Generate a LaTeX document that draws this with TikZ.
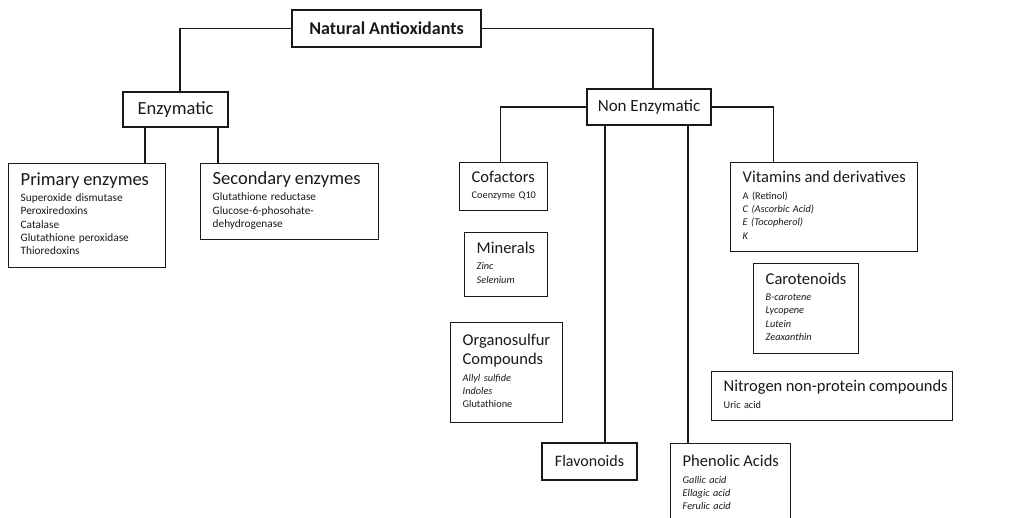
\documentclass[tikz,border=0pt]{standalone}
\usepackage{fontspec}
\setmainfont{Carlito}
\tikzset{
  box/.style={draw, line width=1.4pt, inner sep=0pt, align=center},
  listbox/.style={draw, line width=1.4pt, anchor=north west, inner xsep=12pt, inner ysep=0pt, align=left, font=\fontsize{10.3}{13.3}\selectfont},
  link/.style={line width=1.4pt}
}
\newcommand{\hd}[2][16.5]{{\fontsize{#1}{21}\selectfont #2}}
\newcommand{\entries}[1]{\begin{tabular}{@{}l@{}}#1\end{tabular}}
\begin{document}
\begin{tikzpicture}[x=1pt, y=-1pt, color=black!90]
\clip (0,0) rectangle (1034,518);
% top levels
\node[box, font=\fontsize{18}{20}\selectfont\bfseries, minimum width=189pt, minimum height=37pt] (nat) at (386.5,28.5) {Natural Antioxidants};
\node[box, font=\fontsize{18.5}{20}\selectfont, minimum width=105pt, minimum height=35pt] (enz) at (175.5,109.5) {Enzymatic};
\node[box, font=\fontsize{17}{20}\selectfont, minimum width=124pt, minimum height=36pt] (nonenz) at (649,107) {Non Enzymatic};
% enzymatic
\node[listbox, font=\fontsize{11.3}{13.3}\selectfont, text width=133pt, minimum height=104pt] (prim) at (8,163)
  {\entries{\hd[18.5]{Primary enzymes}\\[3pt]Superoxide dismutase\\Peroxiredoxins\\Catalase\\Glutathione peroxidase\\Thioredoxins}};
\node[listbox, font=\fontsize{11.3}{13.3}\selectfont, text width=154pt, minimum height=76pt] (sec) at (200,163)
  {\entries{\hd[18.5]{Secondary enzymes}\\[3pt]Glutathione reductase\\Glucose-6-phosohate-\\dehydrogenase}};
% non enzymatic
\node[listbox, text width=64pt, minimum height=48pt] (cof) at (459,162)
  {\entries{\hd{Cofactors}\\[3pt]Coenzyme Q10}};
\node[listbox, text width=59pt, minimum height=64pt] (min) at (464,232)
  {\entries{\hd{Minerals}\\[3pt]\textit{Zinc}\\\textit{Selenium}}};
\node[listbox, text width=88pt, minimum height=100pt] (orgs) at (450,322)
  {\entries{\hd{Organosulfur}\\[4pt]\hd{Compounds}\\[3pt]\textit{Allyl sulfide}\\\textit{Indoles}\\Glutathione}};
\node[box, font=\fontsize{16}{20}\selectfont, minimum width=95pt, minimum height=37pt] (flav) at (589.5,461.5) {Flavonoids};
\node[listbox, text width=96pt, minimum height=82pt] (phen) at (670,443)
  {\entries{\hd{Phenolic Acids}\\[3pt]\textit{Gallic acid}\\\textit{Ellagic acid}\\\textit{Ferulic acid}}};
\node[listbox, text width=163pt, minimum height=89pt] (vit) at (730,162)
  {\entries{\hd{Vitamins and derivatives}\\[3pt]A (Retinol)\\\textit{C (Ascorbic Acid)}\\\textit{E (Tocopherol)}\\\textit{K}}};
\node[listbox, text width=81pt, minimum height=90pt] (car) at (753,263)
  {\entries{\hd{Carotenoids}\\[3pt]\textit{B-carotene}\\\textit{Lycopene}\\\textit{Lutein}\\\textit{Zeaxanthin}}};
\node[listbox, text width=217pt, minimum height=49pt] (nitro) at (711,371)
  {\entries{\hd{Nitrogen non-protein compounds}\\[3pt]Uric acid}};
% connectors
\draw[link] (nat.west) -| ([xshift=4.5pt]enz.north);
\draw[link] (nat.east) -| ([xshift=4pt]nonenz.north);
\draw[link] ([xshift=-30.5pt]enz.south) -- ([xshift=-30.5pt]enz.south |- prim.north);
\draw[link] ([xshift=42.5pt]enz.south) -- ([xshift=42.5pt]enz.south |- sec.north);
\draw[link] (nonenz.west) -| ([xshift=-3pt]cof.north);
\draw[link] (nonenz.east) -| ([xshift=-50.5pt]vit.north);
\draw[link] ([xshift=-44pt]nonenz.south) -- ([xshift=-44pt]nonenz.south |- flav.north);
\draw[link] ([xshift=39pt]nonenz.south) -- ([xshift=39pt]nonenz.south |- phen.north);
\end{tikzpicture}
\end{document}
